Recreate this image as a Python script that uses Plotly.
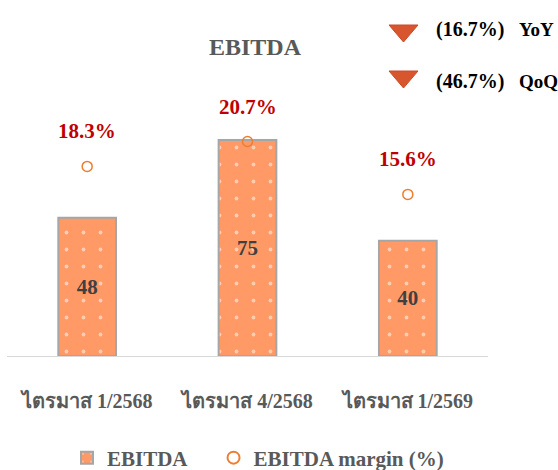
import plotly.graph_objects as go

categories = ["ไตรมาส 1/2568", "ไตรมาส 4/2568", "ไตรมาส 1/2569"]
ebitda = [48, 75, 40]
margin = [18.3, 20.7, 15.6]
margin_labels = ["18.3%", "20.7%", "15.6%"]
change_labels = ["(16.7%)", "(46.7%)"]
change_kinds = ["YoY", "QoQ"]

W, H = 558, 470
L, R, T, B = 7, 70, 20, 114
PW, PH = W - L - R, H - T - B

def px_x(p):
    return (p - L) / PW

def px_y(p):
    return (H - B - p) / PH

SERIF = "Liberation Serif, Times New Roman, serif"
GRAY = "#595959"

fig = go.Figure()
fig.add_trace(go.Bar(
    x=categories, y=ebitda, name="EBITDA\u00a0\u00a0\u00a0\u00a0",
    width=0.36,
    marker=dict(color="#FF9966", line=dict(color="#A6A6A6", width=2),
                pattern=dict(shape=".", fgcolor="white", bgcolor="#FF9966",
                             size=17, solidity=0.04, fillmode="overlay")),
    text=[str(v) for v in ebitda], textposition="inside", insidetextanchor="middle",
    textfont=dict(family=SERIF, size=21, color="#404040", weight="bold"),
    cliponaxis=False,
))
fig.add_trace(go.Scatter(
    x=categories, y=margin, name="EBITDA margin (%)", yaxis="y2",
    mode="markers",
    marker=dict(symbol="circle-open", size=10, color="#ED7D31", line=dict(width=1.5)),
    cliponaxis=False,
))

for c, m, lab in zip(categories, margin, margin_labels):
    fig.add_annotation(x=c, y=m, yref="y2", text=f"<b>{lab}</b>", showarrow=False,
                       yshift=35, font=dict(family=SERIF, size=21, color="#C00000"))

# change indicators
tri_y = [25, 71]
text_y = [29, 81]
for ty, yy, lab, kind in zip(tri_y, text_y, change_labels, change_kinds):
    x0, x1, xm = px_x(389), px_x(418), px_x(403.5)
    y0, y1 = px_y(ty), px_y(ty + 17)
    fig.add_shape(type="path", xref="paper", yref="paper",
                  path=f"M {x0},{y0} L {x1},{y0} L {xm},{y1} Z",
                  fillcolor="#D8562D", line=dict(color="#C94A25", width=1))
    fig.add_annotation(xref="paper", yref="paper", x=px_x(434), y=px_y(yy),
                       xanchor="left", yanchor="middle", showarrow=False,
                       text=f"<b>{lab}</b>",
                       font=dict(family=SERIF, size=20, color="#000000"))
    fig.add_annotation(xref="paper", yref="paper", x=px_x(517), y=px_y(yy),
                       xanchor="left", yanchor="middle", showarrow=False,
                       text=f"<b>{kind}</b>",
                       font=dict(family=SERIF, size=19, color="#000000"))

fig.add_annotation(xref="paper", yref="paper", x=px_x(255), y=px_y(47),
                   xanchor="center", yanchor="middle", showarrow=False,
                   text="<b>EBITDA</b>", font=dict(family=SERIF, size=24, color=GRAY))

fig.update_layout(
    width=W, height=H,
    margin=dict(l=L, r=R, t=T, b=B, autoexpand=False),
    paper_bgcolor="white", plot_bgcolor="white",
    showlegend=True,
    legend=dict(orientation="h", x=px_x(67), xanchor="left", y=px_y(458), yanchor="middle",
                font=dict(family=SERIF, size=21, color=GRAY, weight="bold"),
                itemsizing="constant"),
    xaxis=dict(showline=True, linecolor="#D9D9D9", linewidth=1, showgrid=False,
               ticks="", tickfont=dict(family=SERIF, size=20, color=GRAY, weight="bold"),
               ticklabelstandoff=27, range=[-0.5, 2.5]),
    yaxis=dict(visible=False, range=[0, PH / 2.88], showgrid=False),
    yaxis2=dict(visible=False, overlaying="y", range=[0, PH / 10.36], showgrid=False),
    bargap=0.64,
)

fig.write_html("out.html", config={"displayModeBar": False},
               post_script="document.body.style.margin='0';")
